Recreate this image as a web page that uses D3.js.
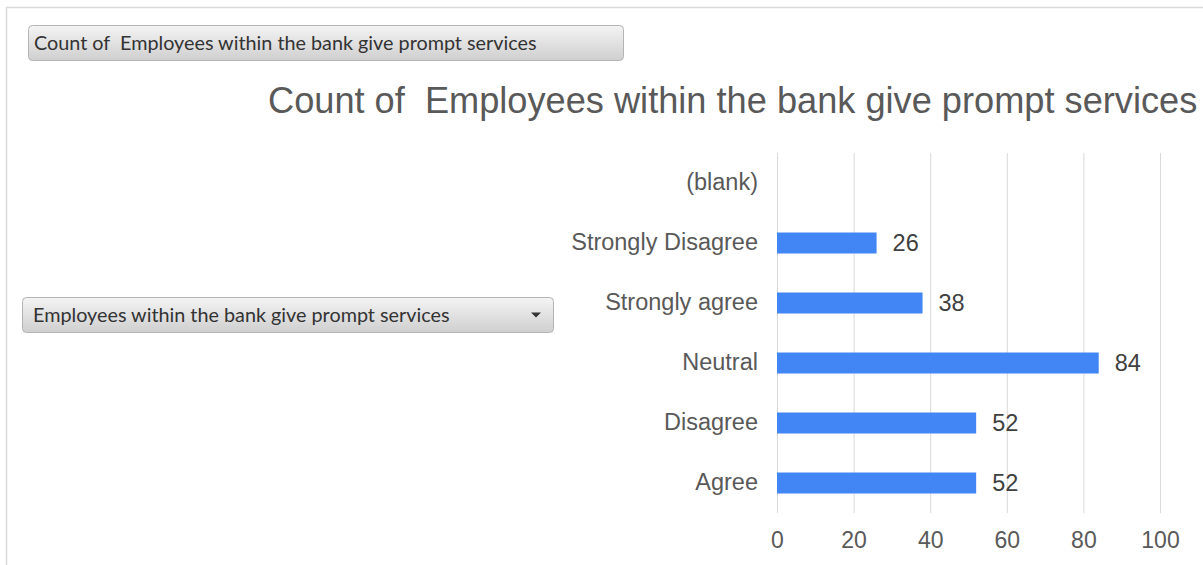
<!DOCTYPE html>
<html>
<head>
<meta charset="utf-8">
<script src="https://cdn.jsdelivr.net/npm/d3@7"></script>
<style>
  html, body { margin: 0; padding: 0; background: #fff; }
  svg { display: block; }
  svg text { white-space: pre; }
</style>
</head>
<body>
<svg id="chart" width="1203" height="565"></svg>
<script>
// Survey responses, listed top to bottom as they appear on the axis
const categories = ["(blank)", "Strongly Disagree", "Strongly agree", "Neutral", "Disagree", "Agree"];
const counts = [null, 26, 38, 84, 52, 52];
const xTicks = [0, 20, 40, 60, 80, 100];
const chartTitle = "Count of  Employees within the bank give prompt services";
const valueFieldLabel = "Count of  Employees within the bank give prompt services";
const axisFieldLabel = "Employees within the bank give prompt services";

const svg = d3.select("#chart");
const chartFont = "'Liberation Sans', Arial, sans-serif";

// Gradient for the pivot field buttons
const defs = svg.append("defs");
const grad = defs.append("linearGradient").attr("id", "btnGrad")
  .attr("x1", 0).attr("y1", 0).attr("x2", 0).attr("y2", 1);
grad.append("stop").attr("offset", "0%").attr("stop-color", "#f4f4f4");
grad.append("stop").attr("offset", "100%").attr("stop-color", "#cfcfcf");

// Chart area frame
svg.append("path")
  .attr("d", "M6.5,565 V7.5 H1203")
  .attr("fill", "none").attr("stroke", "#d9d9d9").attr("stroke-width", 1.5);

// Field buttons
function fieldButton(x, y, w, h, text, textX, dropdown) {
  const g = svg.append("g").attr("transform", `translate(${x},${y})`);
  g.append("rect").attr("x", 0.5).attr("y", 0.5).attr("width", w).attr("height", h)
    .attr("rx", 4).attr("fill", "url(#btnGrad)").attr("stroke", "#b4b4b4");
  g.append("text").attr("x", textX).attr("y", h / 2 + 7)
    .attr("font-family", "Lato, 'Open Sans', sans-serif").attr("font-size", 19.8)
    .attr("fill", "#333").text(text);
  if (dropdown) {
    g.append("path").attr("d", `M${w - 22},${h / 2 - 2} h10 l-5,5 z`).attr("fill", "#333");
  }
}
fieldButton(28, 25, 595, 35, valueFieldLabel, 6, false);
fieldButton(22, 297, 531, 35, axisFieldLabel, 11, true);

// Title
svg.append("text")
  .attr("x", 268).attr("y", 113)
  .attr("font-family", chartFont)
  .attr("font-size", 36.2).attr("fill", "#595959")
  .text(chartTitle);

// Plot geometry
const plotLeft = 777, plotRight = 1160, plotTop = 153, plotBottom = 513;
const x = d3.scaleLinear().domain([0, 100]).range([plotLeft, plotRight]);
const y = d3.scaleBand().domain(categories).range([plotTop, plotBottom]).paddingInner(0.65).paddingOuter(0.325);

// Vertical gridlines
svg.append("g").selectAll("line").data(xTicks).join("line")
  .attr("x1", d => x(d) + 0.5).attr("x2", d => x(d) + 0.5)
  .attr("y1", plotTop).attr("y2", plotBottom)
  .attr("stroke", "#d9d9d9").attr("stroke-width", 1);

// X axis labels
const xAxis = d3.axisBottom(x).tickValues(xTicks).tickSize(0).tickPadding(0);
const gx = svg.append("g").attr("transform", `translate(0,${plotBottom + 19})`).call(xAxis);
gx.select(".domain").remove();
gx.selectAll("text")
  .attr("font-family", chartFont)
  .attr("font-size", 23).attr("fill", "#595959").attr("dy", "0.71em");

// Y axis labels
const yAxis = d3.axisLeft(y).tickSize(0).tickPadding(19);
const gy = svg.append("g").attr("transform", `translate(${plotLeft},0)`).call(yAxis);
gy.select(".domain").remove();
gy.selectAll("text")
  .attr("font-family", chartFont)
  .attr("font-size", 23.5).attr("fill", "#595959").attr("dy", "0.3em");

// Bars
const rows = categories.map((c, i) => ({ c, v: counts[i] })).filter(d => d.v != null);
svg.append("g").selectAll("rect").data(rows).join("rect")
  .attr("x", x(0)).attr("y", d => y(d.c))
  .attr("width", d => x(d.v) - x(0)).attr("height", y.bandwidth())
  .attr("fill", "#4285f4");

// Value labels
svg.append("g").selectAll("text").data(rows).join("text")
  .attr("x", d => x(d.v) + 16).attr("y", d => y(d.c) + y.bandwidth() / 2)
  .attr("dy", "0.36em")
  .attr("font-family", chartFont)
  .attr("font-size", 23.5).attr("fill", "#404040")
  .text(d => d.v);
</script>
</body>
</html>
